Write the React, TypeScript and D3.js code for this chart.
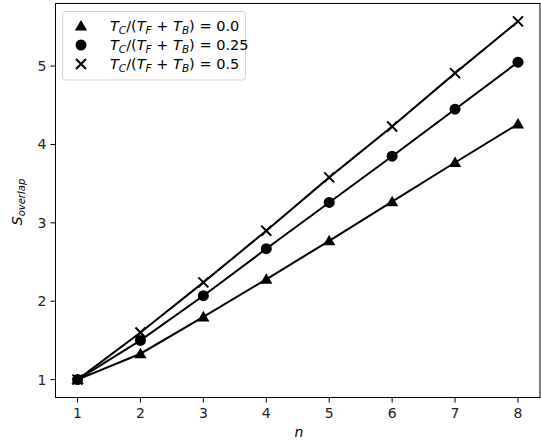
import React, { useEffect, useRef } from "react";
import * as d3 from "d3";

const nValues = [1, 2, 3, 4, 5, 6, 7, 8];
const ratio00 = [1.0, 1.33, 1.8, 2.28, 2.77, 3.27, 3.77, 4.26];
const ratio025 = [1.0, 1.5, 2.07, 2.67, 3.26, 3.85, 4.45, 5.05];
const ratio05 = [1.0, 1.6, 2.24, 2.9, 3.58, 4.23, 4.91, 5.57];
const ratioLabels = ["0.0", "0.25", "0.5"];
const xTicks = [1, 2, 3, 4, 5, 6, 7, 8];
const yTicks = [1, 2, 3, 4, 5];

const W = 541;
const H = 442;
const FONT = "DejaVu Sans, sans-serif";

export default function App() {
  const ref = useRef<SVGSVGElement | null>(null);

  useEffect(() => {
    document.body.style.margin = "0";
    const svg = d3.select(ref.current);
    svg.selectAll("*").remove();

    const left = 55.5, right = 540, top = 3.5, bottom = 397.5;
    const x = d3.scaleLinear().domain([0.65, 8.35]).range([left, right]);
    const y = d3.scaleLinear().domain([0.7715, 5.7985]).range([bottom, top]);

    const series = [
      { values: ratio00, marker: "tri" },
      { values: ratio025, marker: "circle" },
      { values: ratio05, marker: "x" },
    ];

    const line = d3
      .line<number>()
      .x((_, i) => x(nValues[i]))
      .y((d) => y(d));

    const drawMarker = (g: any, kind: string, cx: number, cy: number) => {
      if (kind === "tri") {
        const sym = d3.symbol().type(d3.symbolTriangle).size(64)();
        g.append("path").attr("d", sym).attr("transform", `translate(${cx},${cy + 1})`).attr("fill", "black");
      } else if (kind === "circle") {
        g.append("circle").attr("cx", cx).attr("cy", cy).attr("r", 5.5).attr("fill", "black");
      } else {
        const s = 5;
        g.append("path")
          .attr("d", `M${cx - s},${cy - s}L${cx + s},${cy + s}M${cx - s},${cy + s}L${cx + s},${cy - s}`)
          .attr("stroke", "black")
          .attr("stroke-width", 2)
          .attr("fill", "none");
      }
    };

    series.forEach((s) => {
      svg
        .append("path")
        .datum(s.values)
        .attr("d", line)
        .attr("fill", "none")
        .attr("stroke", "black")
        .attr("stroke-width", 2);
      const g = svg.append("g");
      s.values.forEach((v, i) => drawMarker(g, s.marker, x(nValues[i]), y(v)));
    });

    // frame
    svg
      .append("rect")
      .attr("x", left)
      .attr("y", top)
      .attr("width", right - left)
      .attr("height", bottom - top)
      .attr("fill", "none")
      .attr("stroke", "black")
      .attr("stroke-width", 1);

    // x ticks
    const xt = svg.append("g");
    xTicks.forEach((t) => {
      xt.append("line").attr("x1", x(t)).attr("x2", x(t)).attr("y1", bottom).attr("y2", bottom + 5).attr("stroke", "black");
      xt.append("text")
        .attr("x", x(t))
        .attr("y", bottom + 20)
        .attr("text-anchor", "middle")
        .attr("font-family", FONT)
        .attr("font-size", 14)
        .attr("fill", "#222")
        .text(t);
    });

    const yt = svg.append("g");
    yTicks.forEach((t) => {
      yt.append("line").attr("x1", left - 5).attr("x2", left).attr("y1", y(t)).attr("y2", y(t)).attr("stroke", "black");
      yt.append("text")
        .attr("x", left - 9)
        .attr("y", y(t) + 5)
        .attr("text-anchor", "end")
        .attr("font-family", FONT)
        .attr("font-size", 14)
        .attr("fill", "#222")
        .text(t);
    });

    // axis labels
    svg
      .append("text")
      .attr("x", 299)
      .attr("y", 437)
      .attr("text-anchor", "middle")
      .attr("font-family", FONT)
      .attr("font-size", 14)
      .attr("font-style", "italic")
      .text("n");

    const yl = svg
      .append("text")
      .attr("transform", `translate(22,202) rotate(-90)`)
      .attr("text-anchor", "middle")
      .attr("font-family", FONT)
      .attr("font-size", 14)
      .attr("font-style", "italic");
    yl.append("tspan").text("S");
    yl.append("tspan").attr("font-size", 10).attr("dy", 3).text("overlap");

    // legend
    const lg = svg.append("g");
    lg.append("rect")
      .attr("x", 62.5)
      .attr("y", 11.5)
      .attr("width", 183)
      .attr("height", 68.5)
      .attr("rx", 3)
      .attr("fill", "white")
      .attr("fill-opacity", 0.8)
      .attr("stroke", "#d5d5d5");
    series.forEach((s, i) => {
      const cy = 26 + i * 19;
      drawMarker(lg, s.marker, 81, cy);
      const t = lg
        .append("text")
        .attr("x", 110)
        .attr("y", cy + 5)
        .attr("font-family", FONT)
        .attr("font-size", 14.5);
      t.append("tspan").attr("font-style", "italic").text("T");
      t.append("tspan").attr("font-style", "italic").attr("font-size", 10.5).attr("dy", 3).text("C");
      t.append("tspan").attr("dy", -3).text("/(");
      t.append("tspan").attr("font-style", "italic").text("T");
      t.append("tspan").attr("font-style", "italic").attr("font-size", 10.5).attr("dy", 3).text("F");
      t.append("tspan").attr("dy", -3).text(" + ");
      t.append("tspan").attr("font-style", "italic").text("T");
      t.append("tspan").attr("font-style", "italic").attr("font-size", 10.5).attr("dy", 3).text("B");
      t.append("tspan").attr("dy", -3).text(")");
      t.append("tspan").text(" = ");
      t.append("tspan").text(ratioLabels[i]);
    });
  }, []);

  return <svg ref={ref} width={W} height={H} style={{ display: "block", background: "white" }} />;
}
